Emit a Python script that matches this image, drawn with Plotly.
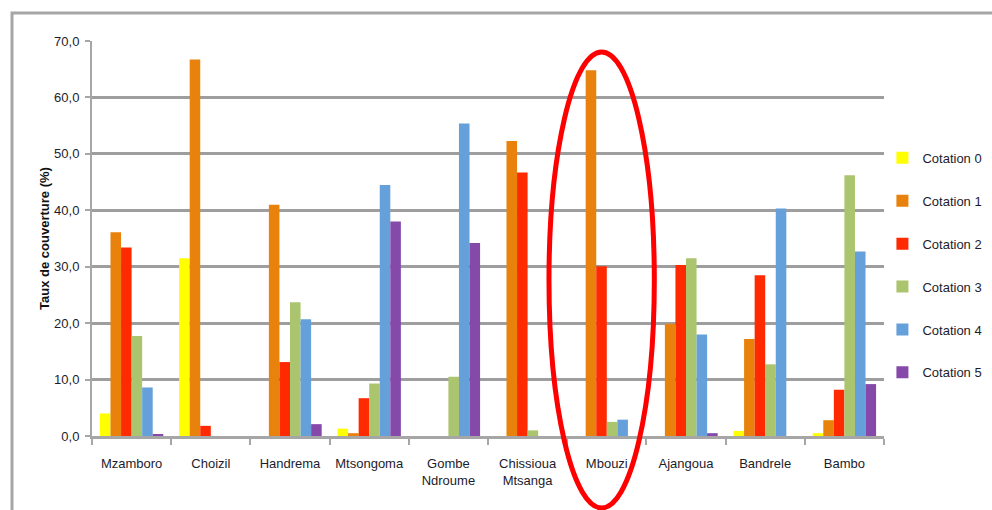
import plotly.graph_objects as go

sites = ["Mzamboro", "Choizil", "Handrema", "Mtsongoma", "Gombe<br>Ndroume",
         "Chissioua<br>Mtsanga", "Mbouzi", "Ajangoua", "Bandrele", "Bambo"]
series_names = ["Cotation 0", "Cotation 1", "Cotation 2", "Cotation 3", "Cotation 4", "Cotation 5"]
cot0 = [4.0, 31.5, 0.0, 1.3, 0.0, 0.0, 0.0, 0.0, 0.9, 0.5]
cot1 = [36.1, 66.7, 41.0, 0.5, 0.0, 52.3, 64.8, 19.9, 17.2, 2.8]
cot2 = [33.4, 1.8, 13.1, 6.7, 0.0, 46.7, 30.1, 30.3, 28.5, 8.2]
cot3 = [17.7, 0.0, 23.7, 9.3, 10.5, 1.0, 2.5, 31.5, 12.7, 46.2]
cot4 = [8.6, 0.0, 20.7, 44.5, 55.4, 0.0, 2.9, 18.0, 40.3, 32.7]
cot5 = [0.2, 0.0, 2.1, 38.0, 34.2, 0.0, 0.0, 0.5, 0.0, 9.2]
colors = ["#FFFF00", "#E8820C", "#FF2A00", "#ABC56E", "#66A0DA", "#8549AA"]
y_ticks = [0, 10, 20, 30, 40, 50, 60, 70]

font_family = "Liberation Sans, Arial, sans-serif"
text_color = "#1c1c2c"

fig = go.Figure()
for i, (name, vals) in enumerate(zip(series_names, [cot0, cot1, cot2, cot3, cot4, cot5])):
    fig.add_trace(go.Bar(x=sites, y=vals, name=name, marker_color=colors[i],
                         marker_line_width=0, legendgroup=name))

fig.update_layout(
    width=992, height=510,
    margin=dict(l=92, r=108, t=41, b=74, autoexpand=False),
    paper_bgcolor="white", plot_bgcolor="white",
    barmode="group", bargap=0.2, bargroupgap=0,
    separators=", ",
    font=dict(family=font_family, size=13, color=text_color),
    legend=dict(x=0.998, y=0.742, xanchor="left", yanchor="top",
                font=dict(size=13, color=text_color), tracegroupgap=23,
                itemwidth=30, bgcolor="rgba(0,0,0,0)"),
    showlegend=True,
)
fig.update_yaxes(range=[0, 70], tickvals=y_ticks, tickformat=".1f",
                 showgrid=True, gridcolor="#9e9e9e", gridwidth=3,
                 showline=True, linecolor="#a6a6a6", linewidth=2,
                 ticks="outside", ticklen=5, tickcolor="#a6a6a6", tickwidth=2,
                 ticklabelstandoff=3,
                 zeroline=False,
                 title=dict(text="<b>Taux de couverture (%)</b>", font=dict(size=13, color="#111"), standoff=2),
                 tickfont=dict(size=13))
fig.update_xaxes(showline=True, linecolor="#a6a6a6", linewidth=3,
                 ticks="outside", tickson="boundaries", ticklen=6, tickcolor="#a6a6a6", tickwidth=2,
                 ticklabelstandoff=13,
                 tickangle=0, tickfont=dict(size=13), showgrid=False)

# outer chart frame
fig.add_shape(type="rect", xref="paper", yref="paper",
              x0=-0.101, x1=1.3, y0=-0.5, y1=1.071,
              line=dict(color="#a6a6a6", width=3), fillcolor="rgba(0,0,0,0)", layer="below")
# red ellipse highlight around Mbouzi
fig.add_shape(type="circle", xref="paper", yref="paper",
              x0=0.577, x1=0.710, y0=-0.182, y1=0.972,
              line=dict(color="#FF0000", width=5), fillcolor="rgba(0,0,0,0)", layer="above")

fig.write_html("out.html", config={"displayModeBar": False},
               post_script="document.body.style.margin='0';")
